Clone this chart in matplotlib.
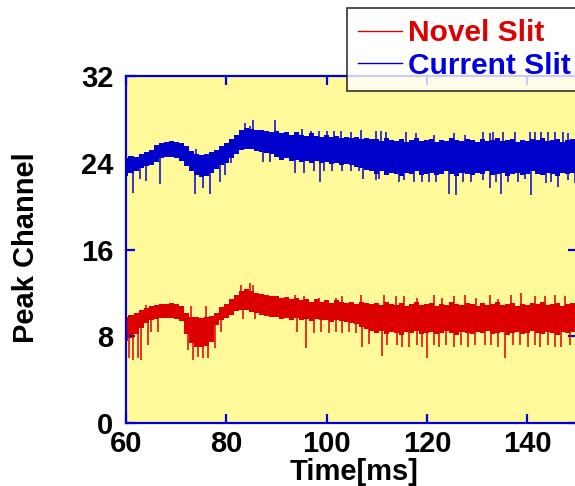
import numpy as np
import matplotlib
matplotlib.use('Agg')
import matplotlib.pyplot as plt

# time axis, 1 ms steps (60..150 ms)
time_ms = np.arange(60, 151)

# band envelopes (lower / upper edge of the dense trace)
current_lo = [22.8, 23.1, 23.2, 23.5, 23.7, 23.8, 24.1, 24.4, 24.5, 24.5,
              24.4, 24.2, 23.7, 23.2, 22.9, 22.7, 22.8, 23.1, 23.4, 23.8,
              24.0, 24.4, 24.8, 25.2, 25.3, 25.3, 25.1, 25.0, 24.9, 24.8,
              24.5, 24.3, 24.4, 24.2, 24.3, 24.1, 24.2, 24.0, 24.2, 24.0,
              24.1, 23.9, 24.0, 23.8, 23.9, 23.8, 23.6, 23.5, 23.3, 23.2,
              23.0, 23.2, 22.9, 23.1, 23.0, 22.8, 23.1, 23.0, 23.2, 22.9,
              23.0, 23.1, 22.9, 23.0, 23.2, 23.0, 22.8, 23.1, 23.0, 22.9,
              23.1, 23.0, 23.2, 22.9, 23.0, 23.1, 22.8, 23.0, 23.1, 22.9,
              23.0, 23.2, 23.0, 22.9, 23.1, 23.0, 22.8, 23.1, 23.0, 23.1,
              22.9]
current_hi = [24.4, 24.6, 24.5, 24.8, 25.0, 25.2, 25.6, 25.8, 25.9, 26.0,
              25.9, 25.8, 25.5, 25.1, 24.8, 24.7, 24.8, 25.0, 25.2, 25.5,
              25.8, 26.2, 26.6, 27.0, 27.2, 27.1, 27.0, 27.0, 26.9, 26.8,
              26.9, 26.7, 26.8, 26.6, 26.8, 26.6, 26.5, 26.7, 26.5, 26.4,
              26.6, 26.4, 26.5, 26.3, 26.4, 26.3, 26.4, 26.2, 26.3, 26.2,
              26.2, 26.0, 26.3, 26.1, 26.0, 26.2, 25.9, 26.1, 26.3, 26.0,
              26.1, 26.2, 25.9, 26.1, 26.0, 26.3, 26.1, 26.0, 26.2, 26.1,
              25.9, 26.2, 26.0, 26.1, 26.3, 26.0, 26.1, 26.2, 25.9, 26.1,
              26.0, 26.2, 26.1, 26.3, 26.0, 26.1, 26.2, 25.9, 26.1, 26.2,
              26.0]
novel_lo = [7.6, 7.8, 8.2, 8.8, 9.2, 9.5, 9.6, 9.7, 9.7, 9.7,
            9.6, 9.4, 8.2, 7.4, 7.0, 7.0, 7.1, 7.5, 9.0, 9.5,
            9.7, 10.0, 10.3, 10.4, 10.4, 10.2, 10.1, 10.0, 9.9, 9.8,
            9.8, 9.6, 9.7, 9.5, 9.7, 9.5, 9.6, 9.4, 9.6, 9.5,
            9.5, 9.3, 9.5, 9.4, 9.3, 9.2, 9.1, 8.9, 8.7, 8.5,
            8.3, 8.5, 8.2, 8.4, 8.3, 8.1, 8.4, 8.3, 8.5, 8.2,
            8.3, 8.4, 8.2, 8.3, 8.5, 8.3, 8.1, 8.4, 8.3, 8.2,
            8.4, 8.3, 8.5, 8.2, 8.3, 8.4, 8.1, 8.3, 8.4, 8.2,
            8.3, 8.5, 8.3, 8.2, 8.4, 8.3, 8.1, 8.4, 8.3, 8.4,
            8.2]
novel_hi = [9.8, 10.0, 10.1, 10.4, 10.6, 10.8, 10.9, 11.0, 11.0, 11.1,
            11.0, 10.8, 10.1, 9.8, 9.8, 9.7, 9.8, 9.9, 10.1, 10.7,
            11.0, 11.4, 11.8, 12.2, 12.4, 12.2, 12.0, 11.9, 11.8, 11.7,
            11.7, 11.5, 11.6, 11.4, 11.5, 11.3, 11.4, 11.2, 11.4, 11.2,
            11.3, 11.1, 11.3, 11.2, 11.1, 11.2, 11.0, 11.2, 11.1, 11.0,
            11.1, 10.9, 11.2, 11.0, 10.9, 11.1, 10.8, 11.0, 11.2, 10.9,
            11.0, 11.1, 10.8, 11.0, 10.9, 11.2, 11.0, 10.9, 11.1, 11.0,
            10.8, 11.1, 10.9, 11.0, 11.2, 10.9, 11.0, 11.1, 10.8, 11.0,
            10.9, 11.1, 11.0, 11.2, 10.9, 11.0, 11.1, 10.8, 11.0, 11.1,
            10.9]

# single-sample spikes sticking out of the band (time, tip value)
current_dn_t = [61.3, 62.7, 64.0, 66.7, 73.7, 75.3, 76.7, 78.7, 79.7, 81.0, 87.3, 88.7,
                93.8, 95.5, 97.5, 98.7, 99.5, 101.1, 103.1, 104.8, 106.5, 107.3, 108.8, 109.8,
                110.5, 114.5, 115.5, 117.5,
                119.1, 120.5, 121.8, 124.5, 125.8, 127.1, 128.8, 131.1, 132.5, 133.8, 134.8,
                136.1, 138.1, 139.5, 140.8, 143.8, 144.8, 146.1, 148.1, 149.5]
current_dn_v = [21.2, 22.5, 22.3, 22.0, 21.1, 21.7, 21.1, 22.2, 22.9, 24.0, 24.1, 24.1,
                23.1, 23.1, 23.2, 22.2, 23.2, 23.2, 23.2, 23.2, 23.2, 22.5, 23.2, 22.4,
                22.5, 22.2, 22.4, 22.2,
                22.2, 22.2, 22.2, 21.1, 21.0, 22.2, 22.2, 22.4, 21.7, 22.2, 21.1,
                22.2, 22.2, 22.5, 21.0, 22.1, 22.2, 21.8, 22.4, 22.1]
current_up_t = [74.0, 83.7, 84.7, 85.3, 89.8,
                95.1, 96.8, 98.5, 100.1, 101.5, 102.8, 104.8, 106.8, 109.8, 110.8, 111.8, 115.8, 117.8,
                121.5, 125.5, 127.5, 131.1, 132.5, 133.1, 135.1, 137.5, 140.5, 141.5, 142.8, 144.1,
                145.5, 147.1, 148.1]
current_up_v = [25.3, 27.7, 27.4, 27.9, 27.9,
                27.1, 26.9, 26.9, 26.9, 26.9, 26.9, 26.8, 27.0, 26.9, 26.9, 26.8, 26.8, 26.7,
                26.6, 26.7, 26.6, 26.8, 26.7, 26.8, 26.8, 26.8, 26.8, 26.8, 26.8, 26.8,
                26.8, 26.8, 26.7]
novel_dn_t = [60.7, 61.3, 62.3, 63.0, 64.3, 65.0, 66.3, 72.3, 73.3, 74.3, 75.3, 76.3, 77.7, 79.0, 83.3, 85.7,
              94.1, 95.8, 97.5, 98.8, 100.5, 101.8, 103.1, 104.5, 105.8, 107.1, 108.5, 111.1, 112.1,
              114.1, 115.1, 116.5, 118.1,
              119.1, 120.0, 121.5, 122.5, 123.8, 125.5, 126.8, 128.1, 129.5, 131.5, 132.8, 134.1,
              135.5, 137.1, 138.5, 140.1, 141.5, 142.5, 144.1, 145.5, 146.8, 148.5]
novel_dn_v = [6.0, 5.8, 6.0, 5.8, 7.2, 8.4, 8.4, 6.7, 5.8, 6.1, 6.0, 6.0, 6.9, 8.4, 9.6, 9.6,
              8.4, 6.9, 8.3, 8.4, 8.3, 8.4, 8.3, 8.4, 8.3, 7.0, 7.3, 6.2, 7.2,
              7.2, 7.0, 7.0, 7.2,
              7.0, 6.0, 7.2, 7.0, 7.2, 7.0, 7.2, 7.0, 7.2, 7.2, 7.2, 7.0,
              6.0, 7.2, 7.2, 7.0, 7.2, 7.0, 7.2, 7.0, 7.0, 7.2]
novel_up_t = [64.0, 73.0, 76.0, 83.0, 84.7, 85.3,
              93.8, 95.5, 98.5, 101.8, 103.1, 106.8, 111.5, 113.8, 115.5, 118.1,
              121.5, 123.1, 125.5, 127.5, 129.8, 132.5, 134.1, 136.8, 138.8, 141.5, 143.5, 145.5, 147.5]
novel_up_v = [10.9, 10.8, 10.8, 12.7, 12.9, 12.7,
              11.8, 11.7, 11.5, 11.5, 11.7, 11.8, 11.8, 11.7, 11.7, 11.5,
              11.8, 11.5, 11.7, 11.8, 11.5, 11.8, 11.4, 11.8, 12.0, 11.7, 11.7, 11.8, 11.7]

plt.rcParams['font.family'] = ['Liberation Sans', 'DejaVu Sans']
plt.rcParams['font.weight'] = 'bold'

fig = plt.figure(figsize=(5.75, 4.86), dpi=100)
ax = fig.add_axes([0.2191, 0.1296, 0.785, 0.714])
ax.set_facecolor('#FFF99A')


def draw_trace(lo, hi, dn_t, dn_v, up_t, up_v, color, label):
    lo = np.array(lo)
    hi = np.array(hi)
    ax.fill_between(time_ms, lo, hi, step='mid', color=color, lw=0)
    mid = (lo + hi) / 2
    i = np.rint(np.array(dn_t) - 60).astype(int)
    ax.vlines(dn_t, dn_v, mid[i], color=color, lw=1.1)
    i = np.rint(np.array(up_t) - 60).astype(int)
    ax.vlines(up_t, mid[i], up_v, color=color, lw=1.1)
    # legend handle only
    ax.plot([], [], color=color, lw=1.0, label=label)


draw_trace(novel_lo, novel_hi, novel_dn_t, novel_dn_v, novel_up_t, novel_up_v, '#DD0000', 'Novel Slit')
draw_trace(current_lo, current_hi, current_dn_t, current_dn_v, current_up_t, current_up_v, '#0000CC', 'Current Slit')

ax.set_xlim(60, 150)
ax.set_ylim(0, 32)
ax.set_xticks([60, 80, 100, 120, 140])
ax.set_yticks([0, 8, 16, 24, 32])

for s in ax.spines.values():
    s.set_color('#0000DD')
    s.set_linewidth(1.6)
ax.tick_params(direction='in', length=6.5, width=1.6, color='#0000DD',
               top=True, right=True, labelsize=21)
ax.tick_params(axis='x', pad=5)
ax.tick_params(axis='y', pad=9)

fig.text(354 / 575, 0.012, 'Time[ms]', ha='center', va='baseline', fontsize=21, fontweight='bold')
fig.text(0.045, 0.49, 'Peak Channel', ha='center', va='center', rotation=90,
         fontsize=21, fontweight='bold')

leg = fig.legend(loc='upper left', bbox_to_anchor=(347 / 575, 1 - 8 / 486),
                 fontsize=21.5, frameon=True, fancybox=False, borderaxespad=0,
                 handlelength=1.45, handletextpad=0.2, borderpad=0.38, labelspacing=0.14,
                 labelcolor=['#DD0000', '#0000DD'])
leg.get_frame().set_edgecolor('black')
leg.get_frame().set_linewidth(1.2)

fig.savefig('out.png', dpi=100)
